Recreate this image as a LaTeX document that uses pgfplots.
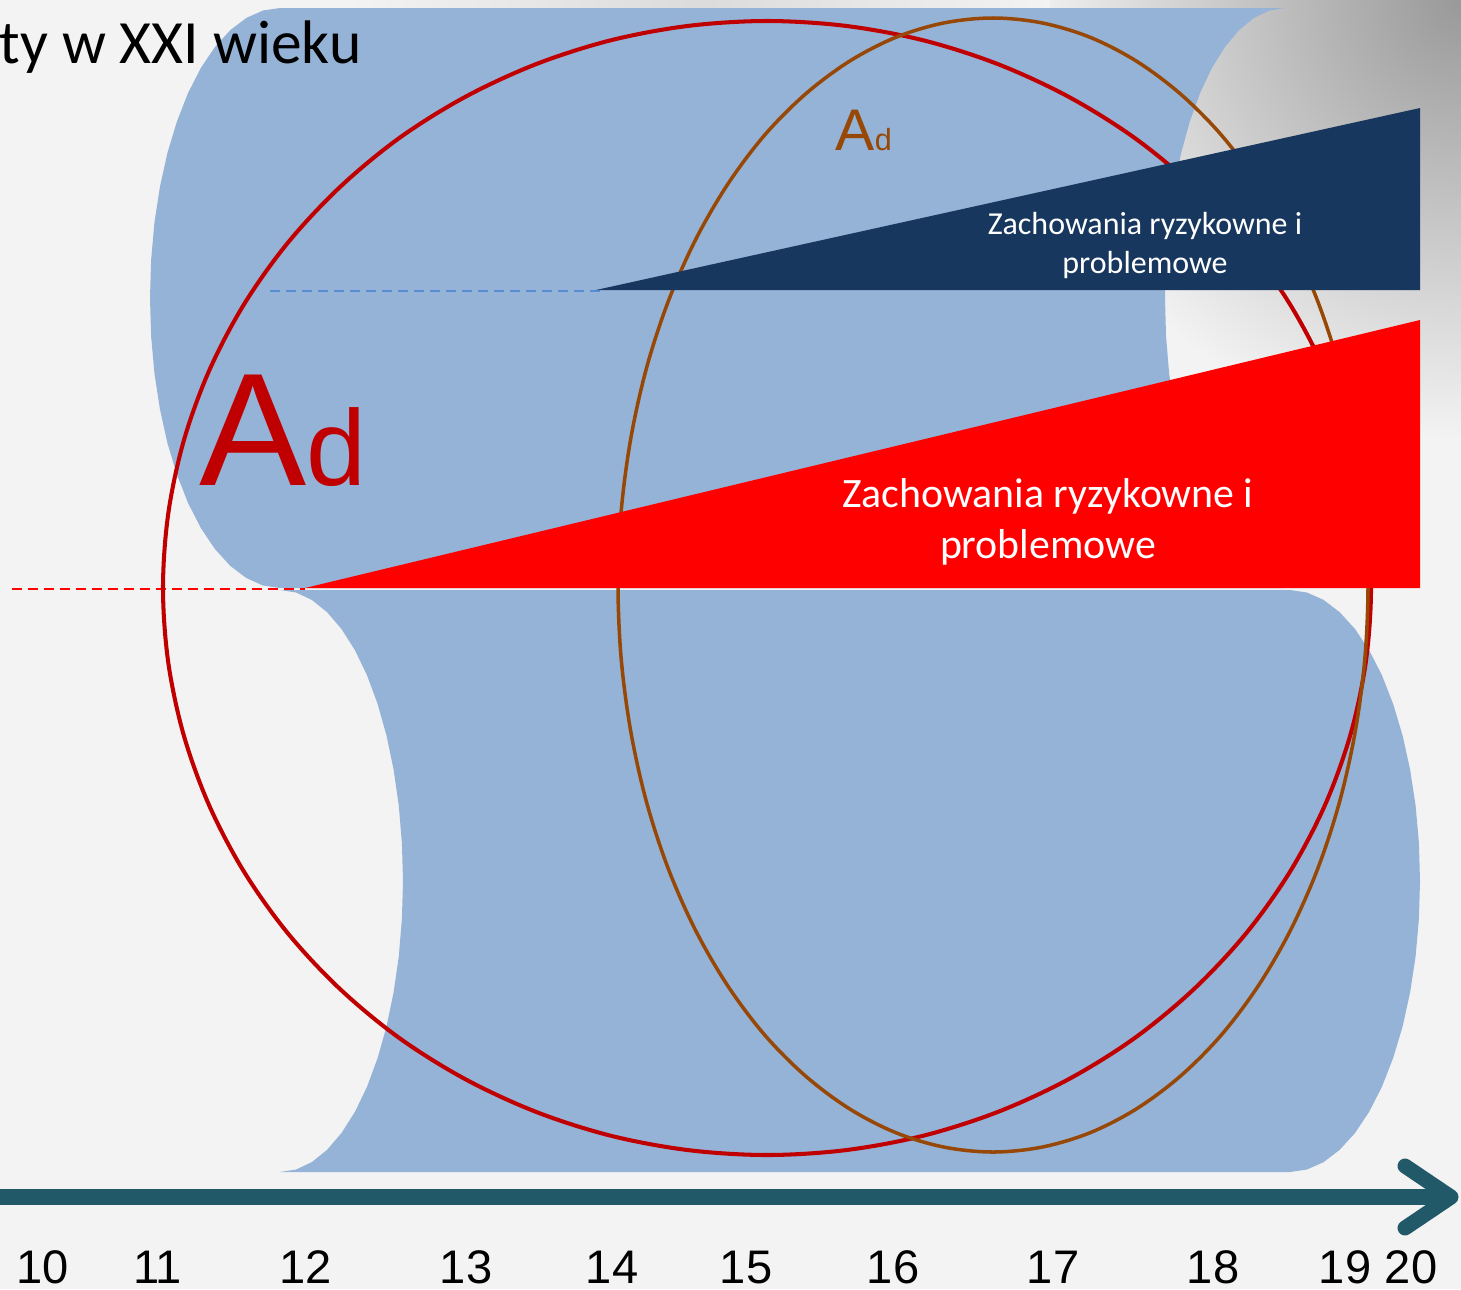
\documentclass[border=0pt]{standalone}
\usepackage{pgfplots}
\pgfplotsset{compat=1.18}
\usepackage{fontspec}
\setmainfont{Carlito}
\newfontfamily\arialfont{Liberation Sans}
\definecolor{shapeblue}{RGB}{149,179,215}
\definecolor{navyc}{RGB}{23,55,94}
\definecolor{darkredc}{RGB}{192,0,0}
\definecolor{brownc}{RGB}{151,72,7}
\definecolor{arrowteal}{RGB}{33,89,104}
\definecolor{dashblue}{RGB}{85,142,213}
\definecolor{bggray}{RGB}{243,243,243}
\begin{document}
\begin{tikzpicture}
\path[use as bounding box, clip] (0,0) rectangle (14.61cm,12.89cm);
\begin{axis}[at={(0,0)}, anchor=south west, scale only axis,
  width=14.61cm, height=12.89cm,
  xmin=0, xmax=1461, ymin=-1289, ymax=0,
  axis line style={draw=none}, ytick=\empty,
  xtick={43,157.5,306,466,612,746,893,1053,1213,1345,1411},
  xticklabels={10,11,12,13,14,15,16,17,18,19,20},
  major tick length=0pt, xtick style={draw=none},
  xticklabel style={font=\arialfont\fontsize{13.4}{14}\selectfont, anchor=base, inner sep=0pt, yshift=0.6mm},
  axis background/.style={fill=bggray}]
% background shading
\shade[inner color=black!40!white, outer color=bggray] (axis cs:1461,0) circle [radius=4.4cm];
\shade[inner color=black!14!white, outer color=bggray] (axis cs:700,0) circle [radius=3.5cm];
% upper blue shape
\addplot[draw=none, fill=shapeblue] coordinates {
(280,-8) (1285,-8) (1269.3,-10.5) (1253.9,-17.9) (1239.1,-30.1) (1225,-46.9) (1211.9,-67.9) (1200.1,-92.9)
(1189.8,-121.5) (1181.1,-153) (1174.1,-187) (1169.1,-222.9) (1166,-260.1) (1165,-298)
(1166,-335.9) (1169.1,-373.1) (1174.1,-409) (1181.1,-443) (1189.8,-474.5) (1200.1,-503.1) (1211.9,-528.1)
(1225,-549.1) (1239.1,-565.9) (1253.9,-578.1) (1269.3,-585.5) (1285,-588)
(280,-588) (263,-585.5) (246.4,-578.1) (230.3,-565.9) (215,-549.1) (200.9,-528.1) (188.1,-503.1)
(176.9,-474.5) (167.4,-443) (159.9,-409) (154.4,-373.1) (151.1,-335.9) (150,-298)
(151.1,-260.1) (154.4,-222.9) (159.9,-187) (167.4,-153) (176.9,-121.5) (188.1,-92.9) (200.9,-67.9)
(215,-46.9) (230.3,-30.1) (246.4,-17.9) (263,-10.5) (280,-8)} -- cycle;
% lower blue shape
\addplot[draw=none, fill=shapeblue] coordinates {
(280,-590) (1290,-590) (1307,-592.5) (1323.6,-599.9) (1339.7,-612.2) (1355,-629) (1369.1,-650.1) (1381.9,-675.2)
(1393.1,-703.9) (1402.6,-735.5) (1410.1,-769.6) (1415.6,-805.7) (1418.9,-843) (1420,-881)
(1418.9,-919) (1415.6,-956.3) (1410.1,-992.4) (1402.6,-1026.5) (1393.1,-1058.1) (1381.9,-1086.8) (1369.1,-1111.9)
(1355,-1133) (1339.7,-1149.8) (1323.6,-1162.1) (1307,-1169.5) (1290,-1172)
(280,-1172) (296.1,-1169.5) (311.8,-1162.1) (327.1,-1149.8) (341.5,-1133) (354.9,-1111.9) (367,-1086.8)
(377.6,-1058.1) (386.5,-1026.5) (393.6,-992.4) (398.8,-956.3) (401.9,-919) (403,-881)
(401.9,-843) (398.8,-805.7) (393.6,-769.6) (386.5,-735.5) (377.6,-703.9) (367,-675.2) (354.9,-650.1)
(341.5,-629) (327.1,-612.2) (311.8,-599.9) (296.1,-592.5) (280,-590)} -- cycle;
% dashed lines
\addplot[dashblue, line width=0.6pt, dash pattern=on 1mm off 0.6mm] coordinates {(270,-291) (600,-291)};
\addplot[red, line width=0.6pt, dash pattern=on 1mm off 0.6mm] coordinates {(12,-589) (305,-589)};
% red ellipse
\addplot[darkredc, line width=1.15pt, smooth, tension=0.55] coordinates {
(1350.4,-441.3) (1365.8,-514) (1371,-588) (1365.8,-662) (1350.4,-734.7) (1325,-805) (1290.1,-871.5)
(1246.2,-933.2) (1194.1,-988.9) (1134.7,-1038) (1069,-1079) (998.1,-1111.8) (923.3,-1135.7) (845.8,-1150.1)
(767,-1155) (688.2,-1150.1) (610.7,-1135.7) (535.9,-1111.8) (465,-1079) (399.3,-1038) (339.9,-988.9)
(287.8,-933.2) (243.9,-871.5) (209,-805) (183.6,-734.7) (168.2,-662) (163,-588) (168.2,-514)
(183.6,-441.3) (209,-371) (243.9,-304.5) (287.8,-242.8) (339.9,-187.1) (399.3,-138) (465,-97)
(535.9,-64.2) (610.7,-40.3) (688.2,-25.9) (767,-21) (845.8,-25.9) (923.3,-40.3) (998.1,-64.2)
(1069,-97) (1134.7,-138) (1194.1,-187.1) (1246.2,-242.8) (1290.1,-304.5) (1325,-371) (1350.4,-441.3)};
% brown ellipse
\addplot[brownc, line width=1pt, smooth, tension=0.55] coordinates {
(1355.2,-438.3) (1364.8,-511) (1368,-585) (1364.8,-659) (1355.2,-731.7) (1339.5,-802) (1317.8,-868.5)
(1290.5,-930.2) (1258.2,-985.9) (1221.3,-1035) (1180.5,-1076) (1136.5,-1108.8) (1090.1,-1132.7) (1041.9,-1147.1)
(993,-1152) (944.1,-1147.1) (895.9,-1132.7) (849.5,-1108.8) (805.5,-1076) (764.7,-1035) (727.8,-985.9)
(695.5,-930.2) (668.2,-868.5) (646.5,-802) (630.8,-731.7) (621.2,-659) (618,-585) (621.2,-511)
(630.8,-438.3) (646.5,-368) (668.2,-301.5) (695.5,-239.8) (727.8,-184.1) (764.7,-135) (805.5,-94)
(849.5,-61.2) (895.9,-37.3) (944.1,-22.9) (993,-18) (1041.9,-22.9) (1090.1,-37.3) (1136.5,-61.2)
(1180.5,-94) (1221.3,-135) (1258.2,-184.1) (1290.5,-239.8) (1317.8,-301.5) (1339.5,-368) (1355.2,-438.3)};
% triangles
\addplot[draw=none, fill=navyc] coordinates {(596,-290) (1420,-108) (1420,-290)} -- cycle;
\addplot[draw=none, fill=red] coordinates {(305,-588) (1420,-320) (1420,-588)} -- cycle;
% texts
\node[text=white, align=center, font=\fontsize{9.1}{11.1}\selectfont] at (axis cs:1145,-245) {Zachowania ryzykowne i\\problemowe};
\node[text=white, align=center, font=\fontsize{11.9}{14.5}\selectfont] at (axis cs:1048,-522) {Zachowania ryzykowne i\\problemowe};
\node[anchor=base west, inner sep=0pt, text=darkredc, font=\arialfont] at (axis cs:199,-485) {{\fontsize{45.7}{46}\selectfont A}{\fontsize{30.6}{31}\selectfont d}};
\node[anchor=base west, inner sep=0pt, text=brownc, font=\arialfont] at (axis cs:835,-150) {{\fontsize{16.7}{17}\selectfont A}{\fontsize{8.7}{9}\selectfont d}};
\node[anchor=base east, inner sep=0pt, font=\fontsize{17.5}{18}\selectfont] at (axis cs:362,-63) {ty w XXI wieku};
% time axis arrow
\addplot[arrowteal, line width=1.6mm] coordinates {(0,-1197) (1446,-1197)};
\addplot[arrowteal, line width=1.5mm, line cap=round, line join=round] coordinates {(1405,-1166) (1451,-1197) (1405,-1228)};
\end{axis}
\end{tikzpicture}
\end{document}
